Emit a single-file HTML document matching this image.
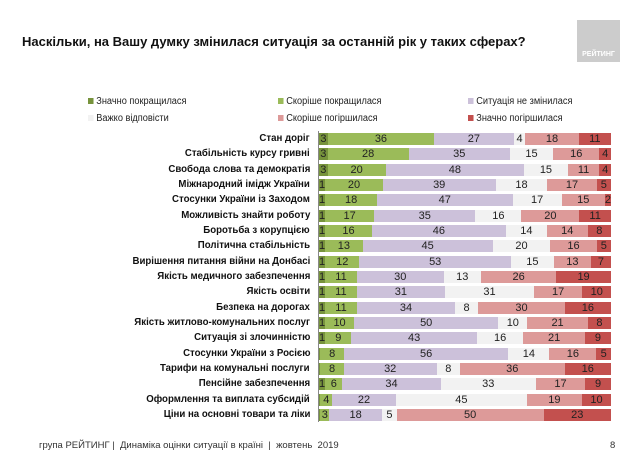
<!DOCTYPE html>
<html><head><meta charset="utf-8"><style>
body{margin:0;width:638px;height:456px;background:#fff;position:relative;overflow:hidden;font-family:"Liberation Sans","DejaVu Sans",sans-serif;}
.t{position:absolute;left:22px;top:34px;font-size:13px;font-weight:bold;color:#111;}
.logo{position:absolute;left:577px;top:20px;width:43px;height:42px;background:#ccc;color:#fff;font-size:7px;font-weight:bold;text-align:center;line-height:70px;}
.lg{position:absolute;font-size:10px;color:#222;transform:scaleX(.92);transform-origin:left;}
.lg i{display:inline-block;width:6px;height:6px;margin-right:3px;vertical-align:0px;}
.lab{position:absolute;right:328px;font-size:10.5px;font-weight:bold;color:#111;white-space:nowrap;transform:scaleX(.92);transform-origin:right;}
.bar{position:absolute;left:319px;width:292px;height:12px;display:flex;}
.bar span{display:block;height:12px;font-size:11px;line-height:12px;text-align:center;color:#222;overflow:visible;white-space:nowrap;}
.a{background:#77933c}.b{background:#9bbb59}.c{background:#ccc1da}.d{background:#f2f2f2}.e{background:#dd9a99}.f{background:#c3504e}
.ax{position:absolute;left:318px;top:131px;width:1px;height:291px;background:#888;}
.ft{position:absolute;left:39px;top:440px;font-size:9.5px;color:#333;}
</style></head><body>
<div class="t">Наскільки, на Вашу думку змінилася ситуація за останній рік у таких сферах?</div>
<div class="logo">РЕЙТИНГ</div>
<div class="lg" style="left:88px;top:96px"><i class="a"></i>Значно покращилася</div>
<div class="lg" style="left:278px;top:96px"><i class="b"></i>Скоріше покращилася</div>
<div class="lg" style="left:468px;top:96px"><i class="c"></i>Ситуація не змінилася</div>
<div class="lg" style="left:88px;top:113px"><i class="d"></i>Важко відповісти</div>
<div class="lg" style="left:278px;top:113px"><i class="e"></i>Скоріше погіршилася</div>
<div class="lg" style="left:468px;top:113px"><i class="f"></i>Значно погіршилася</div>
<div class="ax"></div>

<div class="lab" style="top:132px">Стан доріг</div>
<div class="bar" style="top:133px"><span class="a" style="flex:3">3</span><span class="b" style="flex:36">36</span><span class="c" style="flex:27">27</span><span class="d" style="flex:4">4</span><span class="e" style="flex:18">18</span><span class="f" style="flex:11">11</span></div>
<div class="lab" style="top:147px">Стабільність курсу гривні</div>
<div class="bar" style="top:148px"><span class="a" style="flex:3">3</span><span class="b" style="flex:28">28</span><span class="c" style="flex:35">35</span><span class="d" style="flex:15">15</span><span class="e" style="flex:16">16</span><span class="f" style="flex:4">4</span></div>
<div class="lab" style="top:163px">Свобода слова та демократія</div>
<div class="bar" style="top:164px"><span class="a" style="flex:3">3</span><span class="b" style="flex:20">20</span><span class="c" style="flex:48">48</span><span class="d" style="flex:15">15</span><span class="e" style="flex:11">11</span><span class="f" style="flex:4">4</span></div>
<div class="lab" style="top:178px">Міжнародний імідж України</div>
<div class="bar" style="top:179px"><span class="a" style="flex:1">1</span><span class="b" style="flex:20">20</span><span class="c" style="flex:39">39</span><span class="d" style="flex:18">18</span><span class="e" style="flex:17">17</span><span class="f" style="flex:5">5</span></div>
<div class="lab" style="top:193px">Стосунки України із Заходом</div>
<div class="bar" style="top:194px"><span class="a" style="flex:1">1</span><span class="b" style="flex:18">18</span><span class="c" style="flex:47">47</span><span class="d" style="flex:17">17</span><span class="e" style="flex:15">15</span><span class="f" style="flex:2">2</span></div>
<div class="lab" style="top:209px">Можливість знайти роботу</div>
<div class="bar" style="top:210px"><span class="a" style="flex:1">1</span><span class="b" style="flex:17">17</span><span class="c" style="flex:35">35</span><span class="d" style="flex:16">16</span><span class="e" style="flex:20">20</span><span class="f" style="flex:11">11</span></div>
<div class="lab" style="top:224px">Боротьба з корупцією</div>
<div class="bar" style="top:225px"><span class="a" style="flex:1">1</span><span class="b" style="flex:16">16</span><span class="c" style="flex:46">46</span><span class="d" style="flex:14">14</span><span class="e" style="flex:14">14</span><span class="f" style="flex:8">8</span></div>
<div class="lab" style="top:239px">Політична стабільність</div>
<div class="bar" style="top:240px"><span class="a" style="flex:1">1</span><span class="b" style="flex:13">13</span><span class="c" style="flex:45">45</span><span class="d" style="flex:20">20</span><span class="e" style="flex:16">16</span><span class="f" style="flex:5">5</span></div>
<div class="lab" style="top:255px">Вирішення питання війни на Донбасі</div>
<div class="bar" style="top:256px"><span class="a" style="flex:1">1</span><span class="b" style="flex:12">12</span><span class="c" style="flex:53">53</span><span class="d" style="flex:15">15</span><span class="e" style="flex:13">13</span><span class="f" style="flex:7">7</span></div>
<div class="lab" style="top:270px">Якість медичного забезпечення</div>
<div class="bar" style="top:271px"><span class="a" style="flex:1">1</span><span class="b" style="flex:11">11</span><span class="c" style="flex:30">30</span><span class="d" style="flex:13">13</span><span class="e" style="flex:26">26</span><span class="f" style="flex:19">19</span></div>
<div class="lab" style="top:285px">Якість освіти</div>
<div class="bar" style="top:286px"><span class="a" style="flex:1">1</span><span class="b" style="flex:11">11</span><span class="c" style="flex:31">31</span><span class="d" style="flex:31">31</span><span class="e" style="flex:17">17</span><span class="f" style="flex:10">10</span></div>
<div class="lab" style="top:301px">Безпека на дорогах</div>
<div class="bar" style="top:302px"><span class="a" style="flex:1">1</span><span class="b" style="flex:11">11</span><span class="c" style="flex:34">34</span><span class="d" style="flex:8">8</span><span class="e" style="flex:30">30</span><span class="f" style="flex:16">16</span></div>
<div class="lab" style="top:316px">Якість житлово-комунальних послуг</div>
<div class="bar" style="top:317px"><span class="a" style="flex:1">1</span><span class="b" style="flex:10">10</span><span class="c" style="flex:50">50</span><span class="d" style="flex:10">10</span><span class="e" style="flex:21">21</span><span class="f" style="flex:8">8</span></div>
<div class="lab" style="top:331px">Ситуація зі злочинністю</div>
<div class="bar" style="top:332px"><span class="a" style="flex:1">1</span><span class="b" style="flex:9">9</span><span class="c" style="flex:43">43</span><span class="d" style="flex:16">16</span><span class="e" style="flex:21">21</span><span class="f" style="flex:9">9</span></div>
<div class="lab" style="top:347px">Стосунки України з Росією</div>
<div class="bar" style="top:348px"><span class="a" style="flex:.5"></span><span class="b" style="flex:8">8</span><span class="c" style="flex:56">56</span><span class="d" style="flex:14">14</span><span class="e" style="flex:16">16</span><span class="f" style="flex:5">5</span></div>
<div class="lab" style="top:362px">Тарифи на комунальні послуги</div>
<div class="bar" style="top:363px"><span class="a" style="flex:.5"></span><span class="b" style="flex:8">8</span><span class="c" style="flex:32">32</span><span class="d" style="flex:8">8</span><span class="e" style="flex:36">36</span><span class="f" style="flex:16">16</span></div>
<div class="lab" style="top:377px">Пенсійне забезпечення</div>
<div class="bar" style="top:378px"><span class="a" style="flex:1">1</span><span class="b" style="flex:6">6</span><span class="c" style="flex:34">34</span><span class="d" style="flex:33">33</span><span class="e" style="flex:17">17</span><span class="f" style="flex:9">9</span></div>
<div class="lab" style="top:393px">Оформлення та виплата субсидій</div>
<div class="bar" style="top:394px"><span class="a" style="flex:.5"></span><span class="b" style="flex:4">4</span><span class="c" style="flex:22">22</span><span class="d" style="flex:45">45</span><span class="e" style="flex:19">19</span><span class="f" style="flex:10">10</span></div>
<div class="lab" style="top:408px">Ціни на основні товари та ліки</div>
<div class="bar" style="top:409px"><span class="a" style="flex:.5"></span><span class="b" style="flex:3">3</span><span class="c" style="flex:18">18</span><span class="d" style="flex:5">5</span><span class="e" style="flex:50">50</span><span class="f" style="flex:23">23</span></div>

<div class="ft">група РЕЙТИНГ |&nbsp; Динаміка оцінки ситуації в країні &nbsp;| &nbsp;жовтень &nbsp;2019</div>
<div class="ft" style="left:610px">8</div>
</body></html>
